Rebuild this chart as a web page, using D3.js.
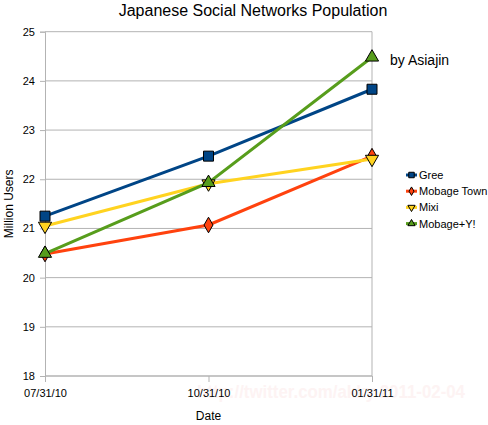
<html lang="en">
<head>
    <meta charset="UTF-8">
    <title>Japanese Social Networks Population</title>
    <script src="https://d3js.org/d3.v7.min.js"></script>
    <style>
        body { margin: 0; background: white; }
        svg { font-family: "Liberation Sans", Arial, sans-serif; }
    </style>
</head>
<body>
    <script>
        const dates = ['07/31/10', '10/31/10', '01/31/11'];
        const seriesNames = ['Gree', 'Mobage Town', 'Mixi', 'Mobage+Y!'];
        const gree = [21.25, 22.47, 23.83];
        const mobageTown = [20.48, 21.07, 22.47];
        const mixi = [21.05, 21.91, 22.41];
        const mobageY = [20.49, 21.93, 24.48];
        const yTicks = [18, 19, 20, 21, 22, 23, 24, 25];

        const w = 488;
        const h = 425;
        const plotLeft = 45, plotRight = 372, plotTop = 31.7, plotBottom = 376;

        const colors = ['#004586', '#ff420e', '#ffd320', '#579d1c'];
        const symbols = [d3.symbolSquare, d3.symbolDiamond, d3.symbolTriangle, d3.symbolTriangle];
        const symbolSizes = [100, 70, 75, 75];
        const rotations = [0, 0, 180, 0];

        const series = [gree, mobageTown, mixi, mobageY].map((vals, i) => ({
            name: seriesNames[i],
            values: vals
        }));

        const xScale = d3.scalePoint().domain(dates).range([plotLeft, plotRight]);
        const yScale = d3.scaleLinear().domain([18, 25]).range([plotBottom, plotTop]);

        const svg = d3.select('body')
            .append('svg')
            .attr('width', w)
            .attr('height', h);

        // faint watermark
        svg.append('text')
            .attr('x', 197)
            .attr('y', 398)
            .attr('textLength', 268)
            .attr('lengthAdjust', 'spacingAndGlyphs')
            .style('font-size', '19px')
            .style('font-weight', 'bold')
            .style('fill', '#fdf3f3')
            .text('http://twitter.com/akky 2011-02-04');

        // horizontal grid
        svg.append('g')
            .selectAll('line')
            .data(yTicks)
            .enter()
            .append('line')
            .attr('x1', plotLeft)
            .attr('x2', plotRight)
            .attr('y1', d => yScale(d))
            .attr('y2', d => yScale(d))
            .attr('stroke', '#b3b3b3')
            .attr('stroke-width', 1);

        // right border
        svg.append('line')
            .attr('x1', plotRight).attr('x2', plotRight)
            .attr('y1', plotTop).attr('y2', plotBottom)
            .attr('stroke', '#b3b3b3');

        const yAxis = d3.axisLeft(yScale).tickValues(yTicks).tickFormat(d3.format('d')).tickSize(5).tickPadding(5);
        const gy = svg.append('g')
            .attr('transform', 'translate(' + plotLeft + ',0)')
            .call(yAxis);
        gy.attr('font-family', null);
        gy.select('.domain').attr('stroke', '#b3b3b3');
        gy.selectAll('.tick line').attr('stroke', '#b3b3b3');
        gy.selectAll('.tick text').style('font-size', '11px').style('fill', '#000');

        const xAxis = d3.axisBottom(xScale).tickSize(6).tickPadding(7);
        const gx = svg.append('g')
            .attr('transform', 'translate(0,' + plotBottom + ')')
            .call(xAxis);
        gx.attr('font-family', null);
        gx.select('.domain').attr('stroke', '#b3b3b3').attr('d', 'M' + plotLeft + ',0H' + plotRight);
        gx.selectAll('.tick line').attr('stroke', '#b3b3b3');
        gx.selectAll('.tick text').style('font-size', '11px').style('fill', '#000');

        // lines
        const line = d3.line()
            .x((d, i) => xScale(dates[i]))
            .y(d => yScale(d));

        svg.append('g')
            .selectAll('path')
            .data(series)
            .enter()
            .append('path')
            .attr('d', d => line(d.values))
            .attr('fill', 'none')
            .attr('stroke', (d, i) => colors[i])
            .attr('stroke-width', 3);

        // markers
        series.forEach((s, i) => {
            svg.append('g')
                .selectAll('path')
                .data(s.values)
                .enter()
                .append('path')
                .attr('d', d3.symbol().type(symbols[i]).size(symbolSizes[i]))
                .attr('transform', (d, j) => 'translate(' + xScale(dates[j]) + ',' + yScale(d) + ') rotate(' + rotations[i] + ')')
                .attr('fill', colors[i])
                .attr('stroke', '#000')
                .attr('stroke-width', 1);
        });

        // title and notes
        svg.append('text')
            .attr('x', 253)
            .attr('y', 16)
            .attr('text-anchor', 'middle')
            .style('font-size', '16px')
            .text('Japanese Social Networks Population');

        svg.append('text')
            .attr('x', 390)
            .attr('y', 65)
            .style('font-size', '14px')
            .text('by Asiajin');

        svg.append('text')
            .attr('x', (plotLeft + plotRight) / 2)
            .attr('y', 420)
            .attr('text-anchor', 'middle')
            .style('font-size', '12px')
            .text('Date');

        svg.append('text')
            .attr('transform', 'translate(13,' + ((plotTop + plotBottom) / 2) + ') rotate(-90)')
            .attr('text-anchor', 'middle')
            .style('font-size', '12px')
            .text('Million Users');

        // legend
        const legend = svg.append('g')
            .selectAll('g')
            .data(series)
            .enter()
            .append('g')
            .attr('transform', (d, i) => 'translate(406,' + (175 + i * 16.2) + ')');

        legend.append('line')
            .attr('x1', 0).attr('x2', 11)
            .attr('stroke', (d, i) => colors[i])
            .attr('stroke-width', 3);

        legend.append('path')
            .attr('d', (d, i) => d3.symbol().type(symbols[i]).size(symbolSizes[i] * 0.3)())
            .attr('transform', (d, i) => 'translate(5.5,0) rotate(' + rotations[i] + ')')
            .attr('fill', (d, i) => colors[i])
            .attr('stroke', '#000')
            .attr('stroke-width', 1);

        legend.append('text')
            .attr('x', 13)
            .attr('y', 4)
            .style('font-size', '11px')
            .text(d => d.name);
    </script>
</body>
</html>
